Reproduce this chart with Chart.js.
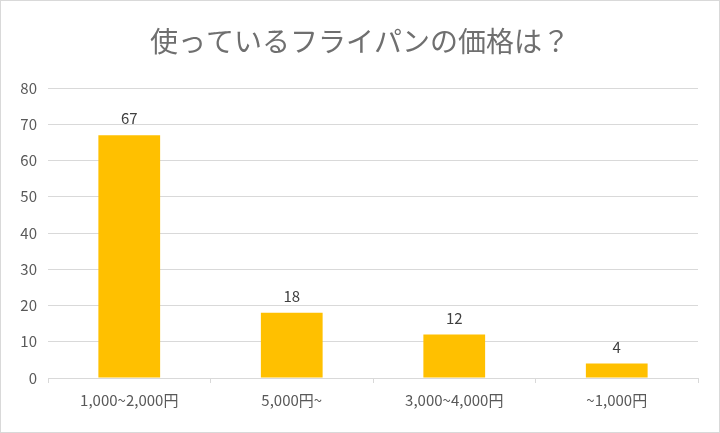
<!DOCTYPE html>
<html>
<head>
<meta charset="utf-8">
<script src="https://cdn.jsdelivr.net/npm/chart.js@4/dist/chart.umd.min.js"></script>
<style>
	html, body { margin: 0; padding: 0; background: #fff; }
	#wrap { position: absolute; left: 0; top: 0; width: 718px; height: 431px; border: 1px solid #d9d9d9; }
	canvas { display: block; }
</style>
</head>
<body>
<div id="wrap"><canvas id="priceChart" width="718" height="431"></canvas></div>
<script>
const titleText = '使っているフライパンの価格は？';
const categories = ['1,000~2,000円', '5,000円~', '3,000~4,000円', '~1,000円'];
const counts = [67, 18, 12, 4];
const yTicks = [0, 10, 20, 30, 40, 50, 60, 70, 80];

const fontFamily = '"Noto Sans CJK JP", "Noto Sans", sans-serif';
const textColor = '#595959';

// title centred on the whole canvas, not on the padded layout box
const centeredTitle = {
	id: 'centeredTitle',
	afterDraw(chart) {
		const ctx = chart.ctx;
		ctx.save();
		ctx.font = '28px ' + fontFamily;
		ctx.fillStyle = '#6f6f6f';
		ctx.textAlign = 'center';
		ctx.textBaseline = 'middle';
		ctx.fillText(titleText, chart.width / 2, 40);
		ctx.restore();
	}
};

// draw value labels above each bar
const barLabels = {
	id: 'barLabels',
	afterDatasetsDraw(chart) {
		const ctx = chart.ctx;
		const meta = chart.getDatasetMeta(0);
		ctx.save();
		ctx.font = '15px ' + fontFamily;
		ctx.fillStyle = '#404040';
		ctx.textAlign = 'center';
		ctx.textBaseline = 'bottom';
		meta.data.forEach((bar, i) => {
			ctx.fillText(String(counts[i]), bar.x, bar.y - 9);
		});
		ctx.restore();
	}
};

new Chart(document.getElementById('priceChart'), {
	type: 'bar',
	data: {
		labels: categories,
		datasets: [{
			data: counts,
			backgroundColor: '#ffc000',
			borderWidth: 0,
			barPercentage: 0.76,
			categoryPercentage: 0.5
		}]
	},
	options: {
		responsive: false,
		animation: false,
		layout: { padding: { top: 87, right: 21, bottom: 15, left: 0 } },
		plugins: {
			legend: { display: false },
			tooltip: { enabled: false },
			title: { display: false }
		},
		scales: {
			x: {
				grid: {
					display: true,
					drawOnChartArea: false,
					drawTicks: true,
					tickLength: 5,
					color: '#d9d9d9',
					offset: true
				},
				border: { color: '#d9d9d9' },
				ticks: {
					color: textColor,
					font: { family: fontFamily, size: 15 },
					padding: 8
				}
			},
			y: {
				min: 0,
				max: 80,
				afterFit(scale) { scale.width = 47; },
				afterBuildTicks(scale) { scale.ticks = yTicks.map(v => ({ value: v })); },
				grid: { color: '#d9d9d9', drawTicks: false },
				border: { display: false },
				ticks: {
					color: textColor,
					font: { family: fontFamily, size: 15 },
					padding: 11
				}
			}
		}
	},
	plugins: [barLabels, centeredTitle]
});
</script>
</body>
</html>
